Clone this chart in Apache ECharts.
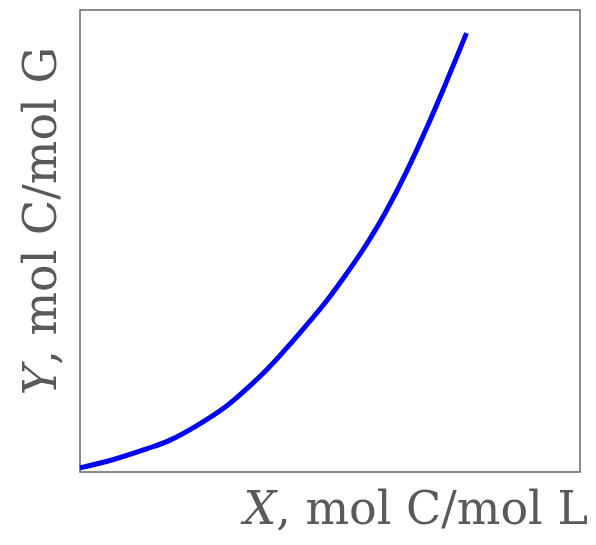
<!DOCTYPE html>
<html>
<head>
<meta charset="utf-8">
<script src="https://cdn.jsdelivr.net/npm/echarts@6/dist/echarts.min.js"></script>
<style>
  html, body { margin: 0; padding: 0; background: #fff; }
  #chart { width: 596px; height: 545px; }
</style>
</head>
<body>
<div id="chart"></div>
<script>
// curve (arbitrary units, both axes 0..100)
const xValues = [0, 6.7, 13.3, 18, 23.3, 28.7, 33.3, 37.3, 41.3, 45.3, 49.3, 53.3, 57.3, 61, 65.3, 69.3, 73.3, 77.3];
const yValues = [0.9, 2.7, 5.0, 6.9, 10.0, 13.8, 18.0, 22.1, 26.8, 31.8, 37.0, 42.9, 49.3, 56.0, 65.0, 74.4, 84.5, 95.0];
const xTitle = '{i|X}, mol C/mol L';
const yTitle = '{i|Y}, mol C/mol G';

const chart = echarts.init(document.getElementById('chart'));
const labelFont = 'DejaVu Serif';
const labelColor = '#5a5a5a';

chart.setOption({
  animation: false,
  grid: {
    left: 80, top: 10, width: 500, height: 462,
    show: true, borderColor: '#666', borderWidth: 1.5, backgroundColor: '#fff'
  },
  xAxis: {
    type: 'value', min: 0, max: 100,
    axisLine: {show: false}, axisTick: {show: false},
    axisLabel: {show: false}, splitLine: {show: false}
  },
  yAxis: {
    type: 'value', min: 0, max: 100,
    axisLine: {show: false}, axisTick: {show: false},
    axisLabel: {show: false}, splitLine: {show: false}
  },
  series: [{
    type: 'line',
    data: xValues.map((x, i) => [x, yValues[i]]),
    smooth: 0.4,
    showSymbol: false,
    lineStyle: {color: '#0000ff', width: 5}
  }],
  graphic: [
    {
      type: 'text',
      x: 588, y: 535,
      style: {
        text: xTitle,
        fill: labelColor,
        font: '46px "' + labelFont + '"',
        align: 'right',
        verticalAlign: 'bottom',
        rich: {i: {fontStyle: 'italic', fontFamily: labelFont, fontSize: 46, fill: labelColor}}
      }
    },
    {
      type: 'text',
      x: 44, y: 221,
      rotation: Math.PI / 2,
      style: {
        text: yTitle,
        fill: labelColor,
        font: '46px "' + labelFont + '"',
        align: 'center',
        verticalAlign: 'middle',
        rich: {i: {fontStyle: 'italic', fontFamily: labelFont, fontSize: 46, fill: labelColor}}
      }
    }
  ]
});
</script>
</body>
</html>
